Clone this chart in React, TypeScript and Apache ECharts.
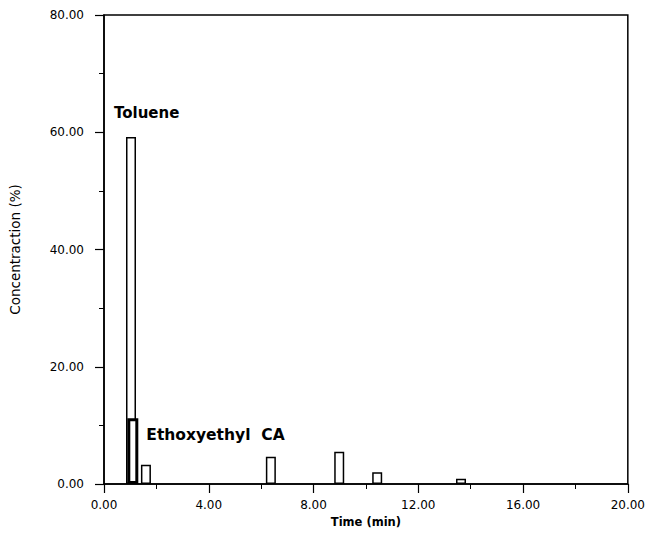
import React, { useEffect, useRef } from "react";
import * as echarts from "echarts";

const peakTimes = [1.05, 1.62, 6.39, 9.0, 10.45, 13.65];
const peakConc = [59.2, 3.3, 4.65, 5.5, 2.0, 0.9];
const peakNames = ["Toluene", "", "", "", "", ""];
const ethoxyTimes = [1.1];
const ethoxyConc = [11.2];
const ethoxyNames = ["Ethoxyethyl  CA"];

export default function App() {
  const ref = useRef<HTMLDivElement>(null);
  useEffect(() => {
    document.body.style.margin = "0";
    const chart = echarts.init(ref.current!, null, { renderer: "svg" });
    const font = "'DejaVu Sans', Arial, sans-serif";
    const axisCommon = {
      axisLine: { show: true, lineStyle: { color: "#000", width: 1.5 } },
      axisTick: { show: true, inside: false, length: 9, lineStyle: { color: "#000", width: 1.2 } },
      minorTick: { show: true, splitNumber: 2, length: 5, lineStyle: { color: "#000", width: 1 } },
      splitLine: { show: false },
    };
    chart.setOption({
      animation: false,
      backgroundColor: "#fff",
      grid: {
        left: 104,
        right: 19,
        top: 15,
        bottom: 57,
        show: true,
        borderColor: "#000",
        borderWidth: 1.5,
      },
      xAxis: {
        type: "value",
        min: 0,
        max: 20,
        interval: 4,
        name: "Time (min)",
        nameLocation: "middle",
        nameGap: 32,
        ...axisCommon,
        nameTextStyle: { color: "#000", fontFamily: font, fontSize: 11.5, fontWeight: "bold" },
        axisLabel: {
          color: "#000",
          fontFamily: font,
          fontSize: 12,
          margin: 15,
          formatter: (v: number) => v.toFixed(2),
        },
      },
      yAxis: {
        type: "value",
        min: 0,
        max: 80,
        interval: 20,
        name: "Concentraction (%)",
        nameLocation: "middle",
        nameGap: 82,
        ...axisCommon,
        nameTextStyle: { color: "#000", fontFamily: font, fontSize: 13.5 },
        axisLabel: {
          color: "#000",
          fontFamily: font,
          fontSize: 12,
          margin: 20,
          formatter: (v: number) => v.toFixed(2),
        },
      },
      series: [
        {
          type: "bar",
          barWidth: 10,
          barGap: "-100%",
          data: peakTimes.map((t, i) => ({
            value: [t, peakConc[i]],
            name: peakNames[i],
            label: peakNames[i]
              ? {
                  show: true,
                  position: [-12, -24],
                  align: "left",
                  verticalAlign: "middle",
                  formatter: "{b}",
                  color: "#000",
                  fontFamily: font,
                  fontWeight: "bold",
                  fontSize: 15,
                }
              : { show: false },
          })),
          itemStyle: { color: "#fff", borderColor: "#000", borderWidth: 1.5 },
        },
        {
          type: "bar",
          barWidth: 11,
          barGap: "-100%",
          z: 3,
          data: ethoxyTimes.map((t, i) => ({
            value: [t, ethoxyConc[i]],
            name: ethoxyNames[i],
          })),
          label: {
            show: true,
            position: [19, 17],
            align: "left",
            verticalAlign: "middle",
            formatter: "{b}",
            color: "#000",
            fontFamily: font,
            fontWeight: "bold",
            fontSize: 15.5,
          },
          itemStyle: { color: "#fff", borderColor: "#000", borderWidth: 3 },
        },
      ],
    });
    return () => chart.dispose();
  }, []);
  return <div ref={ref} style={{ width: 648, height: 541 }} />;
}
